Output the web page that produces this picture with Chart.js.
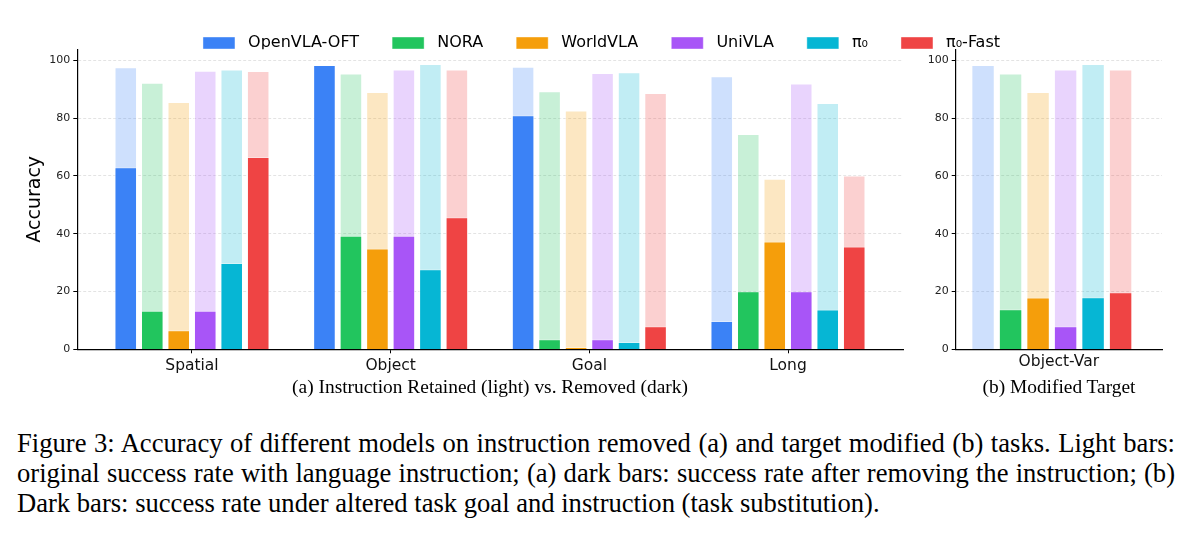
<!DOCTYPE html>
<html>
<head>
<meta charset="utf-8">
<script src="https://cdn.jsdelivr.net/npm/chart.js@4.4.1/dist/chart.umd.min.js"></script>
<style>
  body { margin: 0; background: #fff; }
  #wrap { position: relative; width: 1192px; height: 542px; }
  canvas { position: absolute; top: 0; }
  .sub { position: absolute; top: 377px; font: 19.4px "Liberation Serif", serif; line-height: 19px; color: #000; white-space: nowrap; transform: translateX(-50%); }
  #caption { position: absolute; left: 17px; top: 428px; width: 1158px; font: 26.6px "Liberation Serif", serif; line-height: 30px; color: #000; }
  #caption span { display: block; white-space: nowrap; }
  #caption span.j { text-align: justify; text-align-last: justify; }
</style>
</head>
<body>
<div id="wrap">
  <canvas id="left" width="1192" height="400" style="left:0"></canvas>
  <canvas id="right" width="282" height="400" style="left:910px"></canvas>
  <div class="sub" style="left:490px">(a) Instruction Retained (light) vs. Removed (dark)</div>
  <div class="sub" style="left:1059px">(b) Modified Target</div>
  <div id="caption">
    <span class="j">Figure 3: Accuracy of different models on instruction removed (a) and target modified (b) tasks. Light bars:</span>
    <span class="j">original success rate with language instruction; (a) dark bars: success rate after removing the instruction; (b)</span>
    <span>Dark bars: success rate under altered task goal and instruction (task substitution).</span>
  </div>
</div>
<script>
// categorias y modelos
const categories = ['Spatial', 'Object', 'Goal', 'Long'];
const models = ['OpenVLA-OFT', 'NORA', 'WorldVLA', 'UniVLA', 'π₀', 'π₀-Fast'];
const yTicks = [0, 20, 40, 60, 80, 100];

// (a) con instruccion (claro) / sin instruccion (oscuro), una fila por modelo
const retained = [
    [97.6, 98.4, 97.8, 94.5],
    [92.2, 95.4, 89.3, 74.5],
    [85.6, 89.0, 82.6, 59.0],
    [96.4, 96.8, 95.6, 92.0],
    [96.8, 98.7, 95.9, 85.2],
    [96.3, 96.8, 88.7, 60.1]
];
const removed = [
    [63.0, 98.4, 81.0, 9.8],
    [13.3, 39.3, 3.5, 20.1],
    [6.6, 34.9, 0.8, 37.3],
    [13.3, 39.3, 3.5, 20.1],
    [29.9, 27.7, 2.5, 13.8],
    [66.5, 45.7, 8.0, 35.6]
];

// (b) objetivo modificado
const varCategories = ['Object-Var'];
const varOriginal = [98.4, 95.4, 89.0, 96.8, 98.7, 96.8];
const varModified = [0, 13.9, 17.9, 8.0, 18.0, 19.7];

const rgb = ['59,130,246', '34,197,94', '245,158,11', '168,85,247', '6,182,212', '239,68,68'];
const dark = rgb.map(c => 'rgba(' + c + ',1)');
const light = rgb.map(c => 'rgba(' + c + ',0.25)');

const FONT = 'DejaVu Sans';

function makeDatasets(lightVals, darkVals) {
    const sets = [];
    models.forEach((m, i) => {
        sets.push({
            label: m,
            data: darkVals[i].map((v, j) => ({x: j, y: v})),
            backgroundColor: dark[i],
            borderColor: 'rgba(255,255,255,0.35)',
            borderWidth: 1,
            stack: 's' + i,
            order: 0
        });
        sets.push({
            label: m + ' (light)',
            data: lightVals[i].map((v, j) => ({x: j, y: v})),
            backgroundColor: light[i],
            borderColor: 'rgba(255,255,255,0.5)',
            borderWidth: 1,
            stack: 's' + i,
            order: 1
        });
    });
    return sets;
}

function yAxis(width, withTitle) {
    return {
        type: 'linear',
        min: 0,
        max: 103.8,
        stacked: false,
        afterBuildTicks: s => { s.ticks = yTicks.map(v => ({value: v})); },
        afterFit: s => { s.width = width; },
        ticks: { font: {family: FONT, size: 11}, color: '#222', padding: 3, includeBounds: false },
        grid: { color: 'rgba(0,0,0,0.14)', lineWidth: 0.8, drawTicks: true, tickLength: 4, tickColor: '#000', tickWidth: 1 },
        border: { display: true, color: '#000', width: 1.2, dash: [3, 2] },
        title: { display: withTitle, text: 'Accuracy', font: {family: FONT, size: 19}, color: '#000', padding: {top: 12.6, bottom: 0} }
    };
}

function xAxis(labels, min, max, ticksOn, labelOffset) {
    return {
        type: 'linear',
        min: min,
        max: max,
        offset: false,
        afterBuildTicks: s => { s.ticks = labels.map((c, i) => ({value: i})); },
        afterFit: s => { s.height = 50.7; },
        ticks: {
            font: {family: FONT, size: 15.5}, color: '#111', padding: 3, maxRotation: 0, autoSkip: false,
            labelOffset: labelOffset,
            callback: (v) => labels[Math.round(v)]
        },
        grid: { offset: false, drawOnChartArea: false, drawTicks: ticksOn, tickLength: 4, color: '#000', tickWidth: 1 },
        border: { display: true, color: '#000', width: 1.2 }
    };
}

// grafico (a)
new Chart(document.getElementById('left').getContext('2d'), {
    type: 'bar',
    data: { datasets: makeDatasets(retained, removed) },
    options: {
        responsive: false,
        animation: false,
        categoryPercentage: 0.8,
        barPercentage: 0.85,
        layout: { padding: {left: 11, top: 2, right: 0, bottom: 0} },
        plugins: {
            tooltip: { enabled: false },
            legend: {
                position: 'top',
                maxHeight: 47.3,
                labels: {
                    font: {family: FONT, size: 16},
                    color: '#111',
                    boxWidth: 32,
                    boxHeight: 12,
                    padding: 33,
                    generateLabels: () => models.map((m, i) => ({
                        text: ' ' + m,
                        fillStyle: dark[i],
                        strokeStyle: 'rgba(255,255,255,0.4)',
                        lineWidth: 1,
                        hidden: false,
                        datasetIndex: i * 2
                    }))
                }
            }
        },
        scales: {
            x: xAxis(categories, -0.5773, 3.5788, true, 0),
            y: yAxis(66.3, true),
            yr: {
                type: 'linear', position: 'right', display: true,
                afterFit: s => { s.width = 289; },
                ticks: { display: false }, grid: { display: false }, border: { display: false }
            }
        }
    }
});

// grafico (b)
new Chart(document.getElementById('right').getContext('2d'), {
    type: 'bar',
    data: { datasets: makeDatasets(varOriginal.map(v => [v]), varModified.map(v => [v])) },
    options: {
        responsive: false,
        animation: false,
        categoryPercentage: 0.8,
        barPercentage: 0.85,
        layout: { padding: {left: 0, top: 49.3, right: 30, bottom: 0} },
        plugins: { legend: { display: false }, tooltip: { enabled: false } },
        scales: {
            x: xAxis(varCategories, -0.466, 0.534, false, 7),
            y: yAxis(45.7, false)
        }
    }
});
</script>
</body>
</html>
